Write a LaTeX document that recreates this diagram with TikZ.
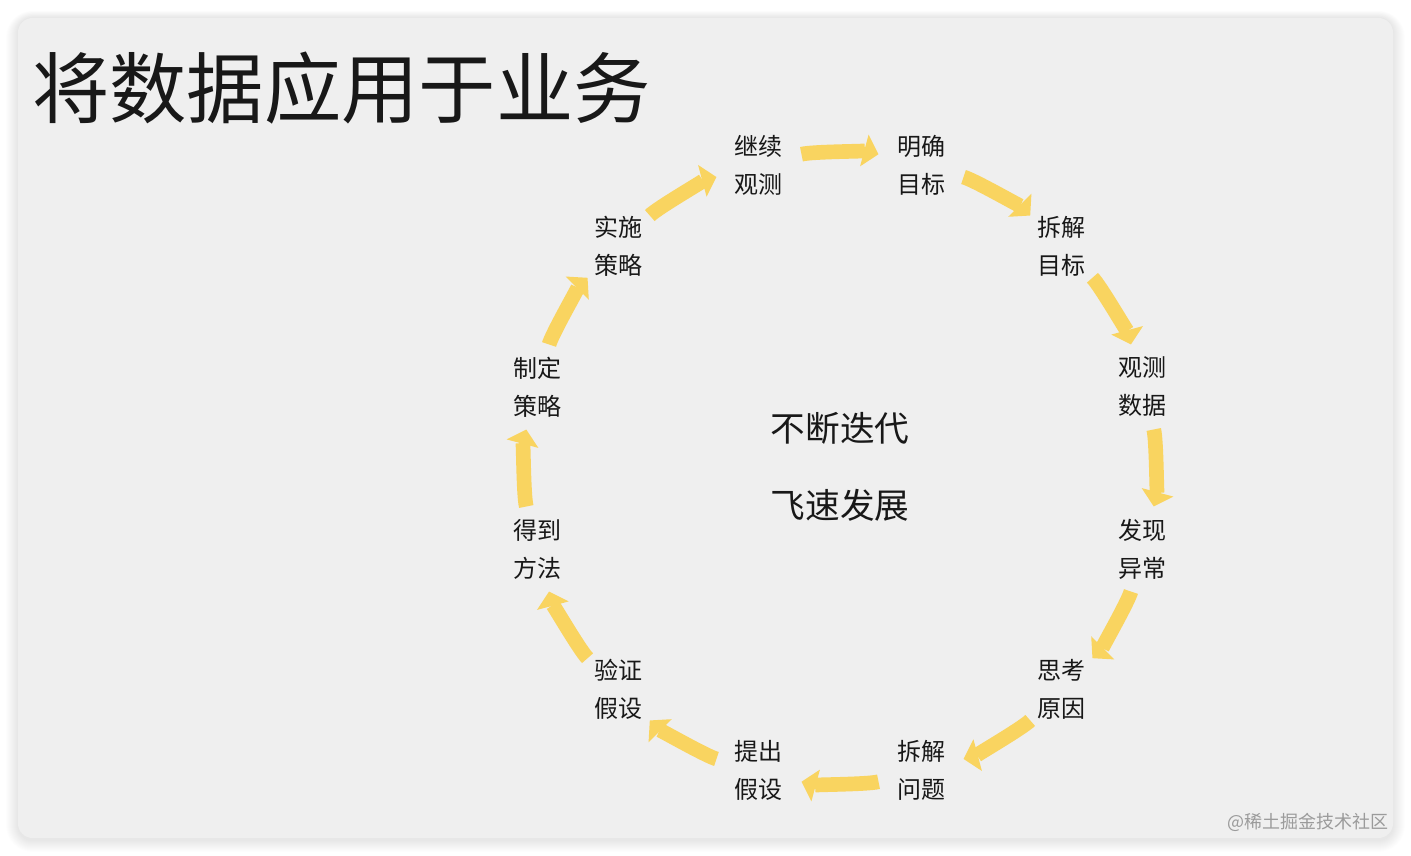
\documentclass[tikz,border=0pt]{standalone}
\usepackage{fontspec}
\newfontfamily\cjk{Noto Sans CJK SC}
\usetikzlibrary{arrows.meta}
\definecolor{cardbg}{RGB}{239,239,239}
\definecolor{arrowyel}{RGB}{249,212,96}
\definecolor{txt}{RGB}{24,24,24}
\definecolor{wm}{RGB}{155,155,155}
\tikzset{
  lbl/.style={font=\cjk\fontsize{18}{28.5}\selectfont, align=center, inner sep=0pt, text=txt},
  flow/.style={draw=arrowyel, line width=11pt, bend left=15, looseness=0.87,
    shorten <=33pt, shorten >=33pt,
    -{Triangle[width=24pt,length=11pt]}},
  card/.style={fill=cardbg, rounded corners=11pt}
}
\begin{document}
\begin{tikzpicture}[x=0.75pt,y=0.75pt]
\useasboundingbox (0,0) rectangle (1411,856);
\fill[white] (0,0) rectangle (1411,856);
\foreach \e in {1,2,...,12}
  \fill[black, opacity=0.009, rounded corners=11pt+0.75*\e pt] (18-\e,16-\e) rectangle (1393+\e,838+0.6*\e);
\path[card] (18,18) rectangle (1393,838);
\node[anchor=west, inner sep=0pt, text=txt, font=\cjk\fontsize{58}{60}\selectfont] (title) at (32,768) {将数据应用于业务};
\coordinate (C) at (840,388);
\node[lbl] (n1) at ([shift={(75:313)}]C) {明确\\目标};
\node[lbl] (n2) at ([shift={(45:313)}]C) {拆解\\目标};
\node[lbl] (n3) at ([shift={(15:313)}]C) {观测\\数据};
\node[lbl] (n4) at ([shift={(-15:313)}]C) {发现\\异常};
\node[lbl] (n5) at ([shift={(-45:313)}]C) {思考\\原因};
\node[lbl] (n6) at ([shift={(-75:313)}]C) {拆解\\问题};
\node[lbl] (n7) at ([shift={(-105:313)}]C) {提出\\假设};
\node[lbl] (n8) at ([shift={(-135:313)}]C) {验证\\假设};
\node[lbl] (n9) at ([shift={(-165:313)}]C) {得到\\方法};
\node[lbl] (n10) at ([shift={(165:313)}]C) {制定\\策略};
\node[lbl] (n11) at ([shift={(135:313)}]C) {实施\\策略};
\node[lbl] (n12) at ([shift={(105:313)}]C) {继续\\观测};
\foreach \a/\b in {n12/n1,n1/n2,n2/n3,n3/n4,n4/n5,n5/n6,n6/n7,n7/n8,n8/n9,n9/n10,n10/n11,n11/n12}
  \draw[flow] (\a.center) to (\b.center);
\node[inner sep=0pt, text=txt, font=\cjk\fontsize{26}{28}\selectfont] (t1) at (840,428) {不断迭代};
\node[inner sep=0pt, text=txt, font=\cjk\fontsize{26}{28}\selectfont] (t2) at (840,351) {飞速发展};
\node[anchor=east, inner sep=0pt, text=wm, font=\cjk\fontsize{13.5}{14}\selectfont] (wm) at (1389,34) {@稀土掘金技术社区};
\end{tikzpicture}
\end{document}
